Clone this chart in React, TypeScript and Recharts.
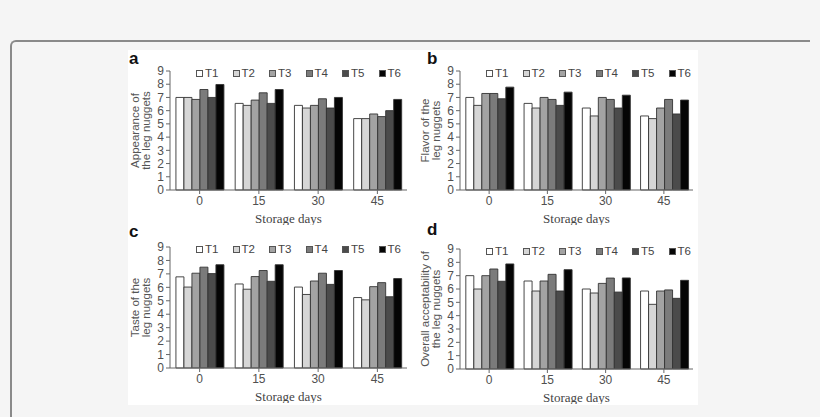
import React from 'react';
import { BarChart, Bar, XAxis, YAxis, Legend } from 'recharts';

// storage days on the x axis
const days = ['0', '15', '30', '45'];
const treatments = ['T1', 'T2', 'T3', 'T4', 'T5', 'T6'];
const fills = ['#ffffff', '#d6d6d6', '#a3a3a3', '#7b7b7b', '#4b4b4b', '#050505'];
const yTicks = [0, 1, 2, 3, 4, 5, 6, 7, 8, 9];

// one row per treatment (T1..T6), one value per storage day
const appearance = [
  [7.0, 6.55, 6.4, 5.4],
  [7.0, 6.4, 6.2, 5.4],
  [6.85, 6.8, 6.4, 5.75],
  [7.6, 7.35, 6.9, 5.55],
  [7.0, 6.55, 6.2, 6.0],
  [7.98, 7.6, 7.0, 6.85],
];

const flavor = [
  [7.0, 6.55, 6.2, 5.6],
  [6.4, 6.2, 5.6, 5.4],
  [7.3, 7.0, 7.0, 6.2],
  [7.3, 6.85, 6.85, 6.85],
  [6.9, 6.4, 6.2, 5.75],
  [7.78, 7.4, 7.17, 6.8],
];

const taste = [
  [6.78, 6.25, 6.02, 5.24],
  [6.02, 5.86, 5.47, 5.07],
  [7.05, 6.8, 6.47, 6.05],
  [7.5, 7.25, 7.05, 6.35],
  [7.02, 6.45, 6.22, 5.3],
  [7.68, 7.68, 7.25, 6.65],
];

const overall = [
  [7.0, 6.6, 6.0, 5.85],
  [6.0, 5.85, 5.7, 4.85],
  [7.0, 6.6, 6.42, 5.85],
  [7.5, 7.1, 6.82, 5.93],
  [6.58, 5.85, 5.77, 5.3],
  [7.88, 7.45, 6.83, 6.65],
];

interface PanelProps {
  letter: string;
  rows: number[][];
  yLabel: string[];
  left: number;
  top: number;
  height: number;
  marginRight: number;
}

const tickStyle = { fontSize: 12, fill: '#505050', fontFamily: 'Liberation Sans, Arial, sans-serif' };

const LegendBox = () => (
  <div style={{ display: 'flex', fontFamily: 'Liberation Sans, Arial, sans-serif', fontSize: 11.5, color: '#444' }}>
    {treatments.map((t, i) => (
      <div key={t} style={{ width: 36.5, display: 'flex', alignItems: 'center', height: 12 }}>
        <span
          style={{
            display: 'inline-block',
            width: 5,
            height: 5,
            background: fills[i],
            border: '1px solid #555',
            marginRight: 2,
          }}
        />
        <span>{t}</span>
      </div>
    ))}
  </div>
);

const Panel: React.FC<PanelProps> = ({ letter, rows, yLabel, left, top, height, marginRight }) => {
  const data = days.map((d, i) => {
    const row: Record<string, string | number> = { day: d };
    treatments.forEach((t, k) => {
      row[t] = rows[k][i];
    });
    return row;
  });

  const renderYLabel = (props: any) => {
    const vb = props.viewBox || {};
    const cy = vb.y + vb.height / 2;
    return (
      <g>
        {yLabel.map((line, i) => {
          const x = 7 + i * 10.5;
          return (
            <text
              key={line}
              x={x}
              y={cy}
              transform={`rotate(-90, ${x}, ${cy})`}
              textAnchor="middle"
              dominantBaseline="central"
              fontSize={11.5}
              fill="#555"
              fontFamily="Liberation Sans, Arial, sans-serif"
            >
              {line}
            </text>
          );
        })}
      </g>
    );
  };

  const renderXLabel = (props: any) => {
    const vb = props.viewBox || {};
    return (
      <text
        x={vb.x + vb.width / 2}
        y={vb.y + 28}
        textAnchor="middle"
        dominantBaseline="central"
        fontSize={13}
        fill="#444"
        fontFamily="Liberation Serif, Times New Roman, serif"
      >
        Storage days
      </text>
    );
  };

  return (
    <>
      <div
        style={{
          position: 'absolute',
          left: letter === 'a' || letter === 'c' ? 129 : 427,
          top: top - (letter === 'a' || letter === 'b' ? 0 : letter === 'c' ? 3 : 7),
          fontFamily: 'Liberation Sans, Arial, sans-serif',
          fontWeight: 'bold',
          fontSize: 17,
          lineHeight: '18px',
          color: '#111',
        }}
      >
        {letter}
      </div>
      <div style={{ position: 'absolute', left, top }}>
        <BarChart
          width={285}
          height={height}
          data={data}
          margin={{ top: 21, right: marginRight, bottom: 5, left: 12 }}
          barGap={0}
          barCategoryGap="10%"
        >
          <XAxis
            dataKey="day"
            height={30}
            tick={tickStyle}
            tickSize={4}
            axisLine={{ stroke: '#666' }}
            tickLine={{ stroke: '#666' }}
            label={{ content: renderXLabel }}
          />
          <YAxis
            width={30}
            domain={[0, 9]}
            ticks={yTicks}
            interval={0}
            tick={tickStyle}
            tickSize={4}
            axisLine={{ stroke: '#666' }}
            tickLine={{ stroke: '#666' }}
            label={{ content: renderYLabel }}
          />
          <Legend
            layout="horizontal"
            verticalAlign="middle"
            align="center"
            wrapperStyle={{ top: 17, left: 68, width: 220 }}
            content={() => <LegendBox />}
          />
          {treatments.map((t, i) => (
            <Bar
              key={t}
              dataKey={t}
              fill={fills[i]}
              stroke="#333"
              strokeWidth={0.9}
              isAnimationActive={false}
            />
          ))}
        </BarChart>
      </div>
    </>
  );
};

export default function App() {
  return (
    <div
      style={{
        position: 'absolute',
        left: 0,
        top: 0,
        width: 820,
        height: 417,
        background: '#f5f5f5',
        overflow: 'hidden',
      }}
    >
      <div
        style={{
          position: 'absolute',
          left: 10,
          top: 40,
          width: 800,
          height: 420,
          borderTop: '2px solid #8a8a8a',
          borderLeft: '2px solid #8a8a8a',
          borderTopLeftRadius: 6,
          boxSizing: 'border-box',
        }}
      />
      <div style={{ position: 'absolute', left: 128, top: 50, width: 570, height: 355, background: '#fff' }} />
      <Panel letter="a" rows={appearance} yLabel={['Appearance of', 'the leg nuggets']} left={128} top={50} height={175} marginRight={6} />
      <Panel letter="b" rows={flavor} yLabel={['Flavor of the', 'leg nuggets']} left={418} top={50} height={175} marginRight={10} />
      <Panel letter="c" rows={taste} yLabel={['Taste of the', 'leg nuggets']} left={128} top={226} height={177} marginRight={6} />
      <Panel letter="d" rows={overall} yLabel={['Overall acceptability of', 'the leg nuggets']} left={418} top={228} height={176} marginRight={10} />
    </div>
  );
}
